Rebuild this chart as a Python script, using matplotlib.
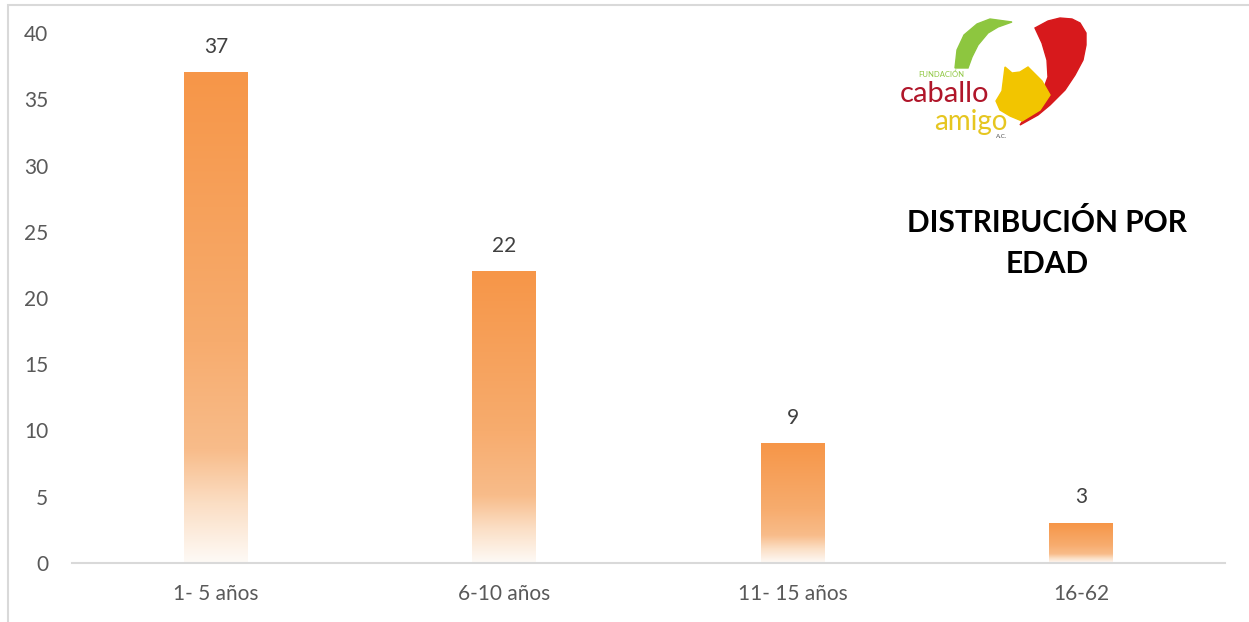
import matplotlib.pyplot as plt
import matplotlib.patches as mpatches
import numpy as np

plt.rcParams['font.family'] = ['Lato', 'DejaVu Sans']

# data
categories = ["1- 5 años", "6-10 años", "11- 15 años", "16-62"]
values = [37, 22, 9, 3]
y_ticks = [0, 5, 10, 15, 20, 25, 30, 35, 40]

W, H = 1249, 622
fig = plt.figure(figsize=(W / 100, H / 100), dpi=100)
ax = fig.add_axes([72 / W, 1 - 563 / H, (1225 - 72) / W, (563 - 33) / H])

# vertical gradient: orange at top, fading to white at the base
stops = np.array([0.0, 0.55, 0.77, 0.88, 1.0])
cols = np.array([
    [246, 150, 72],
    [247, 172, 110],
    [248, 188, 138],
    [251, 222, 196],
    [254, 250, 246],
]) / 255.0
t = np.linspace(0, 1, 256)
grad = np.stack([np.interp(t, stops, cols[:, i]) for i in range(3)], axis=1)
grad = grad[:, None, :]

bar_w = 0.222
x = np.arange(len(categories))
for xi, v in zip(x, values):
    ax.imshow(grad, extent=[xi - bar_w / 2, xi + bar_w / 2, 0, v],
              aspect='auto', interpolation='bilinear', zorder=2)
    ax.text(xi, v + 1.2, str(v), ha='center', va='bottom',
            fontsize=15, color='#404040')

ax.set_xlim(-0.5, len(categories) - 0.5)
ax.set_ylim(0, 40)
ax.set_xticks(x)
ax.set_xticklabels(categories, fontsize=15, color='#595959')
ax.set_yticks(y_ticks)
ax.set_yticklabels([str(v) for v in y_ticks], fontsize=15, color='#595959')
ax.tick_params(axis='both', length=0)
ax.tick_params(axis='y', pad=17)
ax.tick_params(axis='x', pad=15)
for s in ['top', 'right', 'left']:
    ax.spines[s].set_visible(False)
ax.spines['bottom'].set_color('#D9D9D9')
ax.spines['bottom'].set_linewidth(1.5)

# outer chart frame (only left and top visible in the crop)
fig.patches.append(mpatches.Rectangle((7.5 / W, -0.1), 1.2, 1.1 - 4.5 / H,
                                      transform=fig.transFigure, fill=False,
                                      edgecolor='#D9D9D9', linewidth=1.5))

fig.text(1047 / W, 1 - 243 / H, "DISTRIBUCIÓN POR\nEDAD", ha='center', va='center',
         fontsize=21.5, fontweight='bold', color='black', linespacing=1.6)

# simple logo, drawn in pixel coords relative to (900, 15)
lax = fig.add_axes([900 / W, 1 - 140 / H, 188 / W, 125 / H])
lax.set_xlim(0, 188)
lax.set_ylim(125, 0)
lax.axis('off')
green = [(55, 53), (57, 35), (64, 20), (77, 9), (90, 4), (112, 7),
         (98, 12), (88, 18), (78, 30), (72, 42), (68, 53)]
lax.add_patch(mpatches.Polygon(green, closed=True, color='#8DC63F'))
red = [(135, 13), (148, 6), (160, 3), (172, 4), (180, 8), (186, 18), (186, 30),
       (183, 45), (175, 60), (165, 75), (150, 90), (138, 100), (120, 110),
       (130, 95), (142, 78), (148, 62), (147, 45), (142, 28)]
lax.add_patch(mpatches.Polygon(red, closed=True, color='#D7191C'))
yellow = [(105, 52), (112, 58), (120, 57), (128, 52), (134, 58), (142, 66),
          (150, 80), (140, 95), (122, 106), (110, 101), (100, 95), (96, 86),
          (102, 76)]
lax.add_patch(mpatches.Polygon(yellow, closed=True, color='#F2C500'))
lax.text(18, 59, "FUNDACIÓN", fontsize=5.5, color='#8DC63F', va='center', zorder=5)
lax.text(0, 79, "caballo", fontsize=21, color='#B0162A', va='center', zorder=5)
lax.text(34, 107, "amigo", fontsize=20, color='#E6C620', va='center', zorder=5)
lax.text(96, 122, "A.C.", fontsize=4.5, color='#555555', va='center', zorder=5)

fig.savefig('out.png', dpi=100)
